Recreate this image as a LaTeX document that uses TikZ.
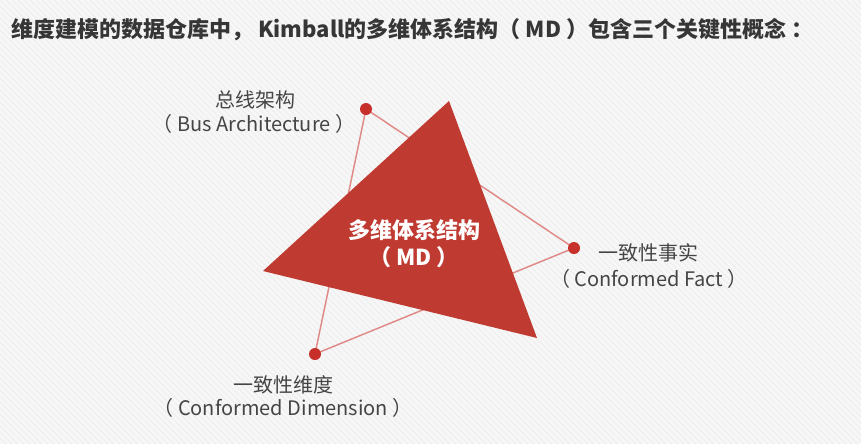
\documentclass[tikz,border=0pt]{standalone}
\usepackage{fontspec}
\setmainfont{Noto Sans CJK SC}
\newfontfamily\cjk{Noto Sans CJK SC}
\pgfdeclarelayer{paper}
\pgfdeclarelayer{links}
\pgfsetlayers{paper,links,main}
\begin{document}
\definecolor{bgcol}{HTML}{F8F8F8}
\definecolor{stripe}{HTML}{F0F0F0}
\definecolor{mdred}{HTML}{BF3A30}
\definecolor{dotred}{HTML}{C62F2A}
\definecolor{linkred}{HTML}{E08A88}
\definecolor{labelgray}{HTML}{454545}
\definecolor{titlegray}{HTML}{363636}
\begin{tikzpicture}[x=0.75pt,y=-0.75pt,
  title/.style={anchor=west,inner sep=0pt,font=\cjk\bfseries\fontsize{16.5}{20}\selectfont,text=titlegray},
  label/.style={inner sep=0pt,font=\cjk\fontsize{15}{18}\selectfont,text=labelgray},
  centre/.style={inner sep=0pt,font=\cjk\bfseries\fontsize{16.5}{20}\selectfont,text=white},
  dot/.style={circle,fill=dotred,minimum size=12pt*0.75,inner sep=0pt},
  link/.style={draw=linkred,line width=1.1pt},
  mdtri/.style={fill=mdred}]
% page and faint diagonal texture
\begin{pgfonlayer}{paper}
\fill[bgcol] (0,0) rectangle (861,444);
\begin{scope}
  \clip (0,0) rectangle (861,444);
  \foreach \k in {-444,-438,...,861}
    \draw[stripe,line width=1.2pt] (\k,0) -- ++(444,444);
\end{scope}
\end{pgfonlayer}
\useasboundingbox (0,0) rectangle (861,444);

% heading
\node[title] (head) at (11,30) {维度建模的数据仓库中， Kimball的多维体系结构（ MD ）包含三个关键性概念 ：};

% the three concept points
\node[dot] (bus) at (366,109) {};
\node[dot] (fact) at (574,248) {};
\node[dot] (dim) at (315,354) {};
\begin{pgfonlayer}{links}
\draw[link] (bus.center) -- (fact.center) -- (dim.center) -- cycle;
\end{pgfonlayer}

% the MD triangle
\coordinate (top) at (449,101);
\coordinate (left) at (263,271);
\coordinate (right) at (537,338);
\fill[mdtri] (top) -- (left) -- (right) -- cycle;
\node[centre] (mdA) at (414,230) {多维体系结构};
\node[centre] (mdB) at (414,257) {（ MD ）};

% labels
\node[label] (busA) at (255,100) {总线架构};
\node[label] (busB) at (254,124) {（ Bus Architecture ）};
\node[label] (factA) at (648,253) {一致性事实};
\node[label] (factB) at (649,279) {（ Conformed Fact ）};
\node[label] (dimA) at (283,385) {一致性维度};
\node[label] (dimB) at (283,408) {（ Conformed Dimension ）};
\end{tikzpicture}
\end{document}
